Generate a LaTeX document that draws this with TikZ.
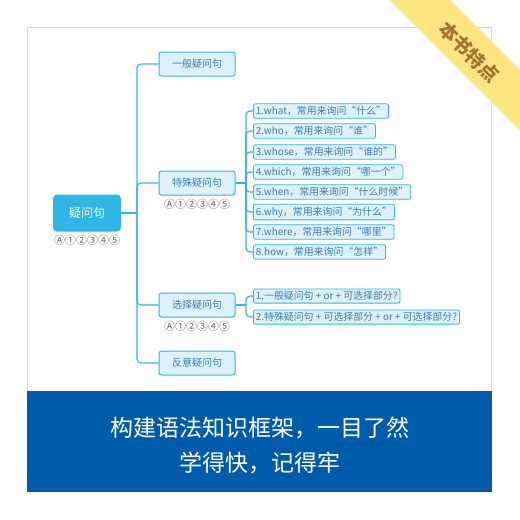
\documentclass[tikz,border=0pt]{standalone}
\usepackage{fontspec}
\setmainfont{Noto Sans CJK SC}
\usepackage{tikz}
\usetikzlibrary{positioning}

\definecolor{mapline}{HTML}{2FB6E8}
\definecolor{mapfill}{HTML}{DCF1FB}
\definecolor{maptext}{HTML}{3A7DB8}
\definecolor{bandblue}{HTML}{005BAA}
\definecolor{ribbon}{HTML}{FFE57F}
\definecolor{ribbontext}{HTML}{A5742E}

\begin{document}
\begin{tikzpicture}[
        x=1pt, y=-1pt,
        root/.style   = {rectangle, rounded corners=4pt, fill=mapline, text=white,
                         minimum width=68pt, minimum height=37pt, font=\fontsize{12}{14}\selectfont},
        topic/.style  = {rectangle, rounded corners=2.5pt, draw=mapline, fill=mapfill, line width=1pt,
                         text=maptext, minimum width=76pt, minimum height=24pt, font=\fontsize{10}{12}\selectfont},
        leaf/.style   = {rectangle, rounded corners=2pt, draw=mapline, fill=mapfill, line width=0.8pt,
                         text=maptext, anchor=west, minimum height=14pt, inner sep=2.5pt,
                         font=\fontsize{9.9}{11}\selectfont},
        tag/.style    = {below=2pt, inner sep=1pt, text=black!60, font=\fontsize{11}{12}\selectfont},
        branch/.style = {draw=mapline, line width=1.2pt, rounded corners=4pt},
        node distance = 4pt
    ]
    \useasboundingbox (0,0) rectangle (520,520);

    % frame and bottom band
    \draw[black!15, line width=0.6pt] (27,27) rectangle (491,392);
    \fill[bandblue] (27,391) rectangle (492,492);
    \node[text=white, font=\fontsize{23}{26}\selectfont] (line1) at (260,428) {构建语法知识框架，一目了然};
    \node[text=white, font=\fontsize{23}{26}\selectfont] (line2) at (260,463) {学得快，记得牢};

    % corner ribbon
    \fill[ribbon] (390,0) -- (450,0) -- (520,70) -- (520,130) -- cycle;
    \node[rotate=-45, text=ribbontext, font=\fontsize{19}{21}\selectfont\bfseries] (badge) at (469,52) {本书特点};

    % mind map
    \node[root] (q) at (87,213) {疑问句};
    \node[tag] (q-tag) at (q.south) {Ⓐ①②③④⑤};

    \node[topic] (gen) at (197,64)  {一般疑问句};
    \node[topic] (sp)  at (197,183) {特殊疑问句};
    \node[topic] (alt) at (197,305) {选择疑问句};
    \node[topic] (tag) at (197,363) {反意疑问句};
    \node[tag] (sp-tag)  at (sp.south)  {Ⓐ①②③④⑤};
    \node[tag] (alt-tag) at (alt.south) {Ⓐ①②③④⑤};

    \coordinate (trunk) at (137,213);
    \draw[branch] (q.east) -- (trunk);
    \foreach \t in {gen,sp,alt,tag}
        \draw[branch] (trunk) |- (\t.west);

    % special questions
    \node[leaf] (w1) at (253,111) {1.what，常用来询问“什么”};
    \node[leaf] (w2) at (253,131) {2.who，常用来询问“谁”};
    \node[leaf] (w3) at (253,152) {3.whose，常用来询问“谁的”};
    \node[leaf] (w4) at (253,172) {4.which，常用来询问“哪一个”};
    \node[leaf] (w5) at (253,192) {5.when，常用来询问“什么时候”};
    \node[leaf] (w6) at (253,212) {6.why，常用来询问“为什么”};
    \node[leaf] (w7) at (253,232) {7.where，常用来询问“哪里”};
    \node[leaf] (w8) at (253,252) {8.how，常用来询问“怎样”};
    \coordinate (sp-fork) at (246,183);
    \draw[branch] (sp.east) -- (sp-fork);
    \foreach \i in {1,...,8}
        \draw[branch] (sp-fork) |- (w\i.west);

    % alternative questions
    \node[leaf] (a1) at (253,296) {1.一般疑问句 + or + 可选择部分?};
    \node[leaf] (a2) at (253,317) {2.特殊疑问句 + 可选择部分 + or + 可选择部分?};
    \coordinate (alt-fork) at (246,305);
    \draw[branch] (alt.east) -- (alt-fork);
    \foreach \i in {1,2}
        \draw[branch] (alt-fork) |- (a\i.west);
\end{tikzpicture}
\end{document}
